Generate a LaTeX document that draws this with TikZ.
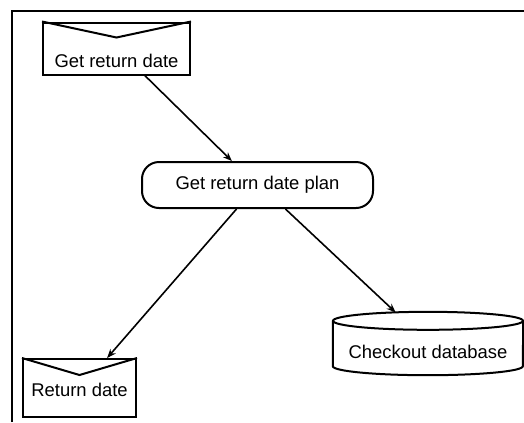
\documentclass[tikz,border=0pt]{standalone}
\usepackage{fontspec}
\setmainfont{Liberation Sans}
\usetikzlibrary{calc,arrows.meta}
\begin{document}
\begin{tikzpicture}[x=1bp,y=-1bp,
  every node/.style={font=\fontsize{18.5}{22}\selectfont},
  shapeline/.style={line width=2bp},
  envelope/.style={shapeline,draw,rectangle,inner sep=0pt},
  planbox/.style={shapeline,draw,rectangle,rounded corners=17bp,inner sep=0pt,
    minimum width=231bp,minimum height=46bp},
  flow/.style={line width=1.6bp,-{Stealth[length=9bp,width=7bp]}}
]
\useasboundingbox (0,0) rectangle (524,422);
% outer frame (left and top edges)
\draw[line width=2.8bp] (12,422) -- (12,11) -- (524,11);

% input message
\node[envelope,minimum width=147bp,minimum height=52bp] (env1) at (116.5,48.5) {};
\draw[shapeline] (env1.north west) -- ($(env1.north)+(0,16)$) -- (env1.north east);
\node (t1) at ($(env1.center)+(0,12)$) {Get return date};

% process
\node[planbox] (plan) at (257.5,185) {Get return date plan};

% output message
\node[envelope,minimum width=113bp,minimum height=58bp] (env2) at (79.5,388) {};
\draw[shapeline] (env2.north west) -- ($(env2.north)+(0,17)$) -- (env2.north east);
\node (t2) at ($(env2.center)+(0,2)$) {Return date};

% data store
\node[inner sep=0pt,minimum width=190bp,minimum height=63bp] (db) at (428,343.5) {};
\draw[shapeline] ($(db.north west)+(0,9)$)
  -- ($(db.south west)+(0,-9)$) arc[start angle=180,end angle=360,x radius=95bp,y radius=9bp]
  -- ($(db.north east)+(0,9)$);
\draw[shapeline] ($(db.north)+(0,9)$) ellipse[x radius=95bp,y radius=9bp];
\node at ($(db.center)+(0,8)$) {Checkout database};
\coordinate (dbin) at ($(db.north west)!0.33!(db.north east)+(0,0.6)$);

% connectors
\draw[flow] ($(env1.south west)!0.69!(env1.south east)$) -- ($(plan.north west)!0.39!(plan.north east)$);
\draw[flow] ($(plan.south west)!0.41!(plan.south east)$) -- ($(env2.north west)!0.74!(env2.north east)$);
\draw[flow] ($(plan.south west)!0.62!(plan.south east)$) -- (dbin);
\end{tikzpicture}
\end{document}
